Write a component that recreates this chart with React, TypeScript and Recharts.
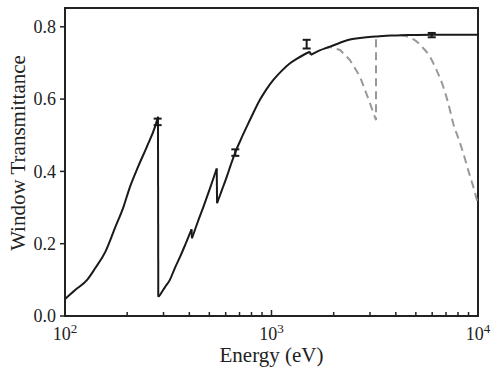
import { ComposedChart, Line, Scatter, ErrorBar, XAxis, YAxis, ReferenceArea } from 'recharts'

// black curve: energy (eV) and transmittance
const solidE = [100, 112, 128, 140, 157, 175, 192, 206, 226, 249, 273, 282, 283, 288, 305, 322, 340, 361, 382, 403, 410, 412, 438, 468, 505, 543, 545, 575, 607, 635, 665, 710, 759, 815, 879, 945, 1021, 1120, 1229, 1330, 1426, 1536, 1550, 1700, 1919, 2148, 2398, 2750, 3200, 3800, 4520, 6000, 8000, 10000]
const solidT = [0.047, 0.072, 0.1, 0.132, 0.178, 0.245, 0.302, 0.356, 0.413, 0.468, 0.524, 0.551, 0.053, 0.058, 0.08, 0.1, 0.132, 0.164, 0.197, 0.229, 0.24, 0.215, 0.258, 0.302, 0.355, 0.408, 0.312, 0.348, 0.385, 0.418, 0.45, 0.488, 0.524, 0.561, 0.598, 0.627, 0.653, 0.678, 0.699, 0.712, 0.722, 0.731, 0.722, 0.734, 0.745, 0.756, 0.765, 0.77, 0.773, 0.776, 0.777, 0.778, 0.778, 0.778]

// gray dashed curves
const dashAE = [1800, 1919, 2148, 2398, 2683, 3000, 3100, 3207, 3207]
const dashAT = [0.74, 0.744, 0.736, 0.708, 0.662, 0.588, 0.565, 0.542, 0.773]
const dashBE = [4200, 4600, 5050, 5450, 5857, 6300, 6790, 7200, 7590, 8050, 8490, 9000, 9480, 10000]
const dashBT = [0.777, 0.772, 0.759, 0.74, 0.717, 0.68, 0.634, 0.585, 0.532, 0.49, 0.45, 0.4, 0.358, 0.31]

// measured points with error
const measE = [281, 668, 1480, 5970]
const measT = [0.537, 0.452, 0.752, 0.777]
const measErr = [0.009, 0.009, 0.012, 0.006]

const xTicks = [100, 200, 300, 400, 500, 600, 700, 800, 900, 1000, 2000, 3000, 4000, 5000, 6000, 7000, 8000, 9000, 10000]
const yTicks = [0, 0.2, 0.4, 0.6, 0.8]

const zip = (xs: number[], ys: number[]) => xs.map((x, i) => ({ x, y: ys[i] }))
const solid = zip(solidE, solidT)
const dashA = zip(dashAE, dashAT)
const dashB = zip(dashBE, dashBT)
const meas = measE.map((x, i) => ({ x, y: measT[i], err: measErr[i] }))

// split the black curve at absorption edges: smooth pieces + straight edge jumps
const edgeIdx = solidE.map((e, i) => i).filter(i => i < solidE.length - 1 && solidE[i + 1] / solidE[i] < 1.01)
const pieces: { x: number; y: number }[][] = []
let start = 0
edgeIdx.forEach(i => {
  pieces.push(solid.slice(start, i + 1))
  start = i + 1
})
pieces.push(solid.slice(start))
const edges = edgeIdx.map(i => [solid[i], solid[i + 1]])

const FONT = '"Liberation Serif", serif'
const INK = '#222'
const CURVE = '#1a1a1a'

const XTick = (props: any) => {
  const { x, y, payload } = props
  const v = payload.value
  const exp = Math.round(Math.log10(v))
  const major = Math.abs(Math.pow(10, exp) - v) < 1e-6
  return (
    <g>
      <line x1={x} x2={x} y1={y} y2={y - (major ? 6 : 4)} stroke={INK} strokeWidth={1.5} />
      {major && (
        <text x={x} y={y + 24} textAnchor="middle" fontFamily={FONT} fontSize={18} fill={INK}>
          10<tspan dy={-7} fontSize={13}>{exp}</tspan>
        </text>
      )}
    </g>
  )
}

export default function App() {
  return (
    <div style={{ position: 'absolute', left: 0, top: 0, background: '#fff' }}>
      <ComposedChart width={499} height={378} margin={{ top: 8, right: 21, bottom: 0, left: 0 }}>
        <XAxis
          dataKey="x"
          type="number"
          scale="log"
          domain={[100, 10000]}
          allowDataOverflow
          ticks={xTicks}
          interval={0}
          tickSize={0}
          tickMargin={0}
          tickLine={false}
          tick={<XTick />}
          height={62}
          axisLine={{ stroke: INK, strokeWidth: 2 }}
          label={{ value: 'Energy (eV)', position: 'insideBottom', offset: 16, fontFamily: FONT, fontSize: 21, fill: INK }}
        />
        <YAxis
          type="number"
          domain={[0, 0.852]}
          allowDataOverflow
          ticks={yTicks}
          interval={0}
          width={65}
          tickSize={5}
          tickMargin={4}
          tickLine={{ stroke: INK, strokeWidth: 1.5 }}
          axisLine={{ stroke: INK, strokeWidth: 2 }}
          tickFormatter={(v: number) => v.toFixed(1)}
          tick={{ fontFamily: FONT, fontSize: 18, fill: INK }}
          label={{ value: 'Window Transmittance', angle: -90, position: 'center', dx: -15, dy: -9, fontFamily: FONT, fontSize: 21, fill: INK }}
        />
        <ReferenceArea x1={100} x2={10000} y1={0} y2={0.852} fill="none" stroke={INK} strokeWidth={2} />
        <Line data={dashA} dataKey="y" type="linear" stroke="#999" strokeWidth={2} strokeDasharray="8 5" dot={false} isAnimationActive={false} />
        <Line data={dashB} dataKey="y" type="monotone" stroke="#999" strokeWidth={2} strokeDasharray="8 5" dot={false} isAnimationActive={false} />
        {pieces.map((p, i) => (
          <Line key={'p' + i} data={p} dataKey="y" type="monotone" stroke={CURVE} strokeWidth={2} dot={false} isAnimationActive={false} />
        ))}
        {edges.map((p, i) => (
          <Line key={'e' + i} data={p} dataKey="y" type="linear" stroke={CURVE} strokeWidth={2} dot={false} isAnimationActive={false} />
        ))}
        <Scatter data={meas} dataKey="y" shape={() => <g />} isAnimationActive={false}>
          <ErrorBar dataKey="err" direction="y" width={4} stroke={CURVE} strokeWidth={2} isAnimationActive={false} />
        </Scatter>
      </ComposedChart>
    </div>
  )
}
